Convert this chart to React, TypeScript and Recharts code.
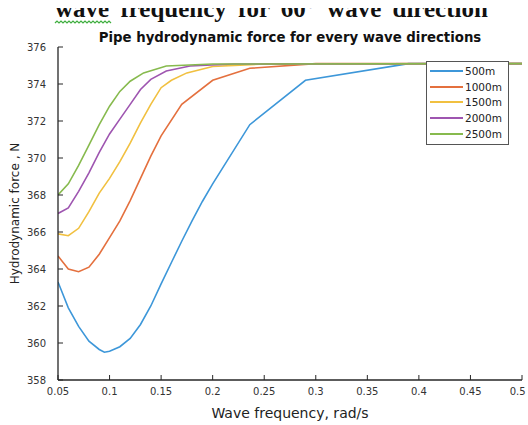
import { LineChart, Line, XAxis, YAxis, Legend } from 'recharts';

// wave frequency (rad/s) and hydrodynamic force (N) for each water depth
const freq500 = [0.05, 0.06, 0.07, 0.08, 0.09, 0.095, 0.1, 0.11, 0.12, 0.13, 0.14, 0.15, 0.16, 0.17, 0.18, 0.19, 0.2, 0.236, 0.29, 0.39, 0.5];
const force500 = [363.3, 361.9, 360.9, 360.1, 359.65, 359.5, 359.55, 359.8, 360.25, 361.0, 362.0, 363.2, 364.35, 365.5, 366.6, 367.65, 368.6, 371.8, 374.2, 375.1, 375.1];

const freq1000 = [0.05, 0.06, 0.07, 0.08, 0.09, 0.1, 0.11, 0.12, 0.13, 0.14, 0.15, 0.17, 0.2, 0.236, 0.3, 0.5];
const force1000 = [364.7, 364.0, 363.85, 364.1, 364.8, 365.7, 366.6, 367.7, 368.9, 370.1, 371.2, 372.9, 374.2, 374.85, 375.1, 375.1];

const freq1500 = [0.05, 0.06, 0.07, 0.08, 0.09, 0.1, 0.11, 0.12, 0.13, 0.14, 0.15, 0.16, 0.175, 0.2, 0.25, 0.5];
const force1500 = [365.9, 365.8, 366.2, 367.1, 368.1, 368.9, 369.8, 370.8, 371.9, 372.9, 373.8, 374.2, 374.6, 374.95, 375.08, 375.1];

const freq2000 = [0.05, 0.06, 0.07, 0.08, 0.09, 0.1, 0.11, 0.12, 0.13, 0.14, 0.155, 0.178, 0.22, 0.5];
const force2000 = [367.0, 367.3, 368.2, 369.2, 370.3, 371.3, 372.1, 372.9, 373.7, 374.25, 374.7, 374.97, 375.08, 375.1];

const freq2500 = [0.05, 0.06, 0.07, 0.08, 0.09, 0.1, 0.11, 0.12, 0.133, 0.155, 0.2, 0.5];
const force2500 = [368.0, 368.6, 369.6, 370.7, 371.8, 372.8, 373.6, 374.15, 374.6, 374.97, 375.08, 375.1];

const depths = ['500m', '1000m', '1500m', '2000m', '2500m'];
const xTicks = [0.05, 0.1, 0.15, 0.2, 0.25, 0.3, 0.35, 0.4, 0.45, 0.5];
const yTicks = [358, 360, 362, 364, 366, 368, 370, 372, 374, 376];

const colors = ['#3D97D9', '#E4703E', '#F1C040', '#9E55B0', '#87BA4E'];
const font = '"DejaVu Sans", Verdana, sans-serif';

const toRows = (f: number[], v: number[]) => f.map((x, i) => ({ f: x, v: v[i] }));
const series = [
  toRows(freq500, force500),
  toRows(freq1000, force1000),
  toRows(freq1500, force1500),
  toRows(freq2000, force2000),
  toRows(freq2500, force2500),
];

const axisLine = { stroke: '#262626', strokeWidth: 1.3 };
const tickLine = { stroke: '#262626', strokeWidth: 1 };
const tickStyle = { fontSize: 10, fill: '#333', fontFamily: font };
const blank = () => '';

// bottom tick labels; the last one is pulled in so it stays on the page
function XTick(props: any) {
  const { x, y, payload } = props;
  const label = String(payload.value);
  const half = label.length * 3.1;
  const cx = Math.min(x, 527 - half);
  return (
    <text x={cx} y={y} dy="0.71em" textAnchor="middle" {...tickStyle}>
      {label}
    </text>
  );
}

function LegendBox(props: any) {
  const items = [...(props.payload || [])].sort(
    (a: any, b: any) => depths.indexOf(a.value) - depths.indexOf(b.value),
  );
  return (
    <div
      style={{
        width: 83,
        height: 84,
        boxSizing: 'border-box',
        border: '1.3px solid #555',
        background: '#fff',
        paddingTop: 1,
        paddingLeft: 3,
        fontFamily: font,
      }}
    >
      {items.map((p: any) => (
        <div key={p.value} style={{ display: 'flex', alignItems: 'center', height: 15.8 }}>
          <svg width={33} height={4} style={{ display: 'block' }}>
            <line x1={0} y1={2} x2={33} y2={2} stroke={p.color} strokeWidth={2} />
          </svg>
          <span style={{ fontSize: 10.5, marginLeft: 2, color: '#222' }}>{p.value}</span>
        </div>
      ))}
    </div>
  );
}

export default function App() {
  return (
    <div style={{ position: 'absolute', left: 0, top: 0, width: 528, height: 425, background: '#fff', overflow: 'hidden' }}>
      <svg width={528} height={30} style={{ position: 'absolute', left: 0, top: 0 }}>
        <defs>
          <clipPath id="cut">
            <rect x={0} y={8} width={528} height={22} />
          </clipPath>
        </defs>
        <text
          x={55}
          y={17}
          clipPath="url(#cut)"
          style={{ fontFamily: '"Liberation Serif", "Times New Roman", serif', fontWeight: 'bold', fontSize: 25, wordSpacing: 5 }}
          fill="#111"
        >
          wave frequency for 60° wave direction
        </text>
        <path
          d="M55 23 l2 -2 l2 2 l2 -2 l2 2 l2 -2 l2 2 l2 -2 l2 2 l2 -2 l2 2 l2 -2 l2 2 l2 -2 l2 2 l2 -2 l2 2 l2 -2 l2 2 l2 -2 l2 2 l2 -2 l2 2 l2 -2 l2 2 l2 -2 l2 2 l2 -2 l2 2"
          fill="none"
          stroke="#3fae3f"
          strokeWidth={1.2}
        />
      </svg>
      <div
        style={{
          position: 'absolute',
          left: 0,
          width: 580,
          top: 31,
          textAlign: 'center',
          fontFamily: font,
          fontWeight: 'bold',
          fontSize: 13.3,
          color: '#111',
          lineHeight: '14px',
        }}
      >
        Pipe hydrodynamic force for every wave directions
      </div>
      <LineChart width={528} height={425} margin={{ top: 47, right: 6, bottom: 0, left: 0 }} style={{ position: 'absolute', left: 0, top: 0 }}>
        <XAxis
          dataKey="f"
          type="number"
          domain={[0.05, 0.5]}
          ticks={xTicks}
          interval={0}
          allowDataOverflow
          height={45}
          tickSize={-5}
          tickMargin={13}
          axisLine={axisLine}
          tickLine={tickLine}
          tick={<XTick />}
          label={{ value: 'Wave frequency, rad/s', position: 'insideBottom', offset: 7, fontSize: 14, fill: '#222', fontFamily: font }}
        />
        <XAxis
          xAxisId="top"
          orientation="top"
          type="number"
          domain={[0.05, 0.5]}
          ticks={xTicks}
          interval={0}
          height={0}
          tickSize={-5}
          axisLine={axisLine}
          tickLine={tickLine}
          tickFormatter={blank}
        />
        <YAxis
          type="number"
          domain={[358, 376]}
          ticks={yTicks}
          interval={0}
          allowDataOverflow
          width={58}
          tickSize={-5}
          tickMargin={17}
          axisLine={axisLine}
          tickLine={tickLine}
          tick={tickStyle}
          label={{
            value: 'Hydrodynamic force , N',
            angle: -90,
            position: 'insideLeft',
            offset: 15,
            fontSize: 12,
            fill: '#222',
            fontFamily: font,
            style: { textAnchor: 'middle' },
          }}
        />
        <YAxis
          yAxisId="right"
          orientation="right"
          type="number"
          domain={[358, 376]}
          ticks={yTicks}
          interval={0}
          width={0}
          tickSize={-5}
          axisLine={axisLine}
          tickLine={tickLine}
          tickFormatter={blank}
        />
        {series.map((rows, i) => (
          <Line
            key={depths[i]}
            data={rows}
            dataKey="v"
            name={depths[i]}
            type="linear"
            stroke={colors[i]}
            strokeWidth={1.6}
            dot={false}
            isAnimationActive={false}
          />
        ))}
        <Legend
          layout="horizontal"
          verticalAlign="middle"
          align="center"
          content={<LegendBox />}
          wrapperStyle={{ position: 'absolute', left: 426, top: 61, width: 83, height: 84 }}
        />
      </LineChart>
    </div>
  );
}
